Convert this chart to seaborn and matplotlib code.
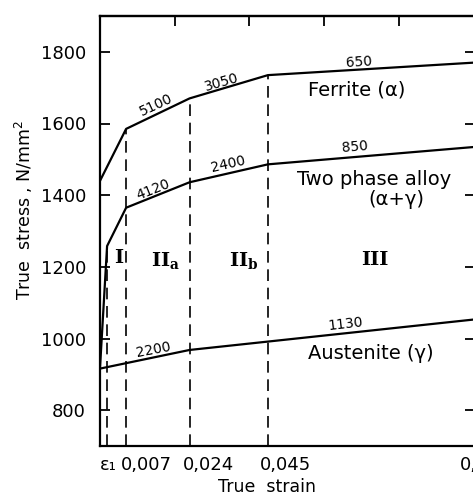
import numpy as np
import pandas as pd
import matplotlib
matplotlib.use("Agg")
import matplotlib.pyplot as plt
import matplotlib.transforms as mtransforms
import seaborn as sns

# ---- data ----
ferrite_strain = [0.0, 0.007, 0.024, 0.045, 0.102]
ferrite_stress = [1440, 1585, 1670, 1735, 1771]
twophase_strain = [0.0, 0.0019, 0.007, 0.024, 0.045, 0.102]
twophase_stress = [918, 1258, 1365, 1436, 1486, 1536]
austenite_strain = [0.0, 0.024, 0.102]
austenite_stress = [916, 968, 1055]

stage_strain = [0.002, 0.007, 0.024, 0.045]
stage_top = [1258, 1585, 1670, 1735]

xtick_vals = [0.002, 0.007, 0.024, 0.045, 0.06, 0.08, 0.1]
xtick_labels = ["ε₁", "0,007", "0,024", "0,045", "", "", "0,1"]
top_ticks = [0.02, 0.04, 0.06, 0.08]
ytick_vals = [800, 1000, 1200, 1400, 1600, 1800]

# slope annotations: (text, x, y, rotation)
slopes = [("5100", 0.0150, 1652, 25), ("3050", 0.0327, 1716, 16),
          ("650", 0.0694, 1772, 3.6), ("4120", 0.0142, 1415, 22),
          ("2400", 0.0343, 1487, 13), ("850", 0.0684, 1535, 4.7),
          ("2200", 0.0142, 968, 10.7), ("1130", 0.0657, 1040, 6.4)]
curve_names = [("Ferrite (α)", 0.0689, 1694), ("Two phase alloy", 0.0735, 1445),
               ("(α+γ)", 0.0794, 1387), ("Austenite (γ)", 0.0727, 957)]
stages = [("I", 0.0049, 1225), ("II$_\\mathregular{a}$", 0.0175, 1215),
          ("II$_\\mathregular{b}$", 0.0385, 1215), ("III", 0.0737, 1220)]

df = pd.concat([
    pd.DataFrame({"strain": ferrite_strain, "stress": ferrite_stress, "alloy": "Ferrite"}),
    pd.DataFrame({"strain": twophase_strain, "stress": twophase_stress, "alloy": "Two phase"}),
    pd.DataFrame({"strain": austenite_strain, "stress": austenite_stress, "alloy": "Austenite"}),
])

sns.set_theme(style="white")
plt.rcParams["font.family"] = ["DejaVu Sans"]
plt.rcParams["text.color"] = "black"
plt.rcParams["axes.labelcolor"] = "black"
plt.rcParams["xtick.color"] = "black"
plt.rcParams["ytick.color"] = "black"

fig = plt.figure(figsize=(4.73, 5.01), dpi=100)
ax = fig.add_axes([100 / 473, 1 - 446 / 501, 1.005 - 100 / 473, (446 - 16) / 501])

sns.lineplot(data=df, x="strain", y="stress", units="alloy", estimator=None,
             sort=False, color="black", linewidth=1.6, ax=ax, legend=False)

ax.vlines(stage_strain, 700, stage_top, colors="black", linestyles=(0, (7, 4)),
          linewidth=1.2)

ax.set_xlim(0, 0.1006)
ax.set_ylim(700, 1900)

ax.set_yticks(ytick_vals)
ax.set_yticklabels([str(v) for v in ytick_vals])
ax.set_xticks(xtick_vals)
ax.set_xticklabels(xtick_labels)

ax.tick_params(axis="both", direction="in", length=7, width=1.3, colors="black",
               labelsize=13)
ax.tick_params(axis="y", right=True, left=True, pad=10)
ax.tick_params(axis="x", pad=7)

offsets_px = [-7.5, -5, -7, -8, 0, 0, -13]
for lab, off in zip(ax.get_xticklabels(), offsets_px):
    lab.set_horizontalalignment("left")
    lab.set_transform(lab.get_transform() +
                      mtransforms.ScaledTranslation(off / 100, 0, fig.dpi_scale_trans))

sec = ax.secondary_xaxis("top")
sec.set_xticks(top_ticks)
sec.set_xticklabels([""] * len(top_ticks))
sec.tick_params(direction="in", length=7, width=1.3, colors="black")
sec.spines["top"].set_linewidth(1.6)

for s in ax.spines.values():
    s.set_linewidth(1.6)
    s.set_color("black")

ax.set_xlabel("True  strain", fontsize=12.5)
ax.set_ylabel("True  stress , N/mm$^2$", fontsize=12.5)
ax.xaxis.set_label_coords(0.445, -0.074)
ax.yaxis.set_label_coords(-0.172, 0.549)

for t, x, y, r in slopes:
    ax.text(x, y, t, fontsize=10, rotation=r, ha="center", va="center",
            rotation_mode="anchor")
for t, x, y in curve_names:
    ax.text(x, y, t, fontsize=14, ha="center", va="center")
for t, x, y in stages:
    ax.text(x, y, t, fontsize=14, ha="center", va="center", family="DejaVu Serif",
            fontweight="bold")

fig.savefig("out.png", dpi=100)
